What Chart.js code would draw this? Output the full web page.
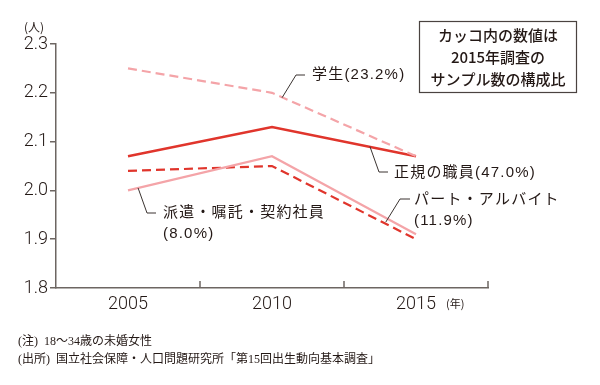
<!DOCTYPE html>
<html>
<head>
<meta charset="utf-8">
<script src="https://cdn.jsdelivr.net/npm/chart.js@4/dist/chart.umd.min.js"></script>
<style>
  body { margin: 0; background: #fff; }
  #wrap { width: 600px; height: 385px; position: relative; }
</style>
</head>
<body>
<div id="wrap"><canvas id="c" width="600" height="385"></canvas></div>
<script>
// data
const years = ["2005", "2010", "2015"];
const seiki = [2.07, 2.13, 2.07];     // 正規の職員
const gakusei = [2.25, 2.20, 2.07];   // 学生
const haken = [2.00, 2.07, 1.91];     // 派遣・嘱託・契約社員
const part = [2.04, 2.05, 1.90];      // パート・アルバイト
const yTicks = [1.8, 1.9, 2.0, 2.1, 2.2, 2.3];

const RED = "#e0352c";
const PINK = "#f4a4a8";
const INK = "#231815";
const AXIS = "#6d6662";
const JP = "'Noto Sans CJK JP', sans-serif";
const LAB = "'Liberation Sans', 'Noto Sans CJK JP', sans-serif";
const NUM = "Roboto, 'Liberation Sans', sans-serif";

// label callouts: anchor on a line (category index, value), elbow, text
const callouts = [
  { at: [1.07, 2.19], elbow: [296, 75], end: 305, lines: ["学生(23.2%)"], tx: 312, ty: 75 },
  { at: [1.68, 2.09], elbow: [379, 172], end: 388, lines: ["正規の職員(47.0%)"], tx: 394, ty: 173 },
  { at: [1.79, 1.935], elbow: [400, 199], end: 410, lines: ["パート・アルバイト", "(11.9%)"], tx: 414, ty: 200 },
  { at: [0.07, 2.005], elbow: [147, 213], end: 156, lines: ["派遣・嘱託・契約社員", "(8.0%)"], tx: 163, ty: 213 }
];

const decor = {
  id: "decor",
  afterDraw(chart) {
    const ctx = chart.ctx;
    const x = chart.scales.x, y = chart.scales.y;
    ctx.save();
    // x ticks pointing up at band edges
    ctx.strokeStyle = AXIS;
    ctx.lineWidth = 1.5;
    [0.5, 1.5, 2.5].forEach(v => {
      const px = Math.round(x.getPixelForValue(v));
      ctx.beginPath();
      ctx.moveTo(px, y.bottom);
      ctx.lineTo(px, y.bottom - 7);
      ctx.stroke();
    });
    // units
    ctx.fillStyle = INK;
    ctx.font = "12px " + JP;
    ctx.textBaseline = "middle";
    ctx.textAlign = "left";
    ctx.fillText("(人)", 24, 27);
    ctx.font = "11px " + JP;
    ctx.fillText("(年)", 446, 304);
    // callouts
    ctx.strokeStyle = "#3a3330";
    ctx.lineWidth = 1;
    callouts.forEach(c => {
      const ax = x.getPixelForValue(c.at[0]);
      const ay = y.getPixelForValue(c.at[1]);
      ctx.beginPath();
      ctx.moveTo(ax, ay);
      ctx.lineTo(c.elbow[0], c.elbow[1]);
      ctx.lineTo(c.end, c.elbow[1]);
      ctx.stroke();
      ctx.font = "15px " + LAB;
      ctx.letterSpacing = "1.2px";
      c.lines.forEach((t, i) => ctx.fillText(t, c.tx, c.ty + i * 21));
      ctx.letterSpacing = "0px";
    });
    // note box
    ctx.strokeStyle = "#4a4340";
    ctx.lineWidth = 1.2;
    ctx.strokeRect(419.5, 21.5, 157, 71);
    ctx.textAlign = "center";
    ctx.font = "500 15px " + JP;
    ["カッコ内の数値は", "2015年調査の", "サンプル数の構成比"].forEach((t, i) => ctx.fillText(t, 498, 35 + i * 22));
    // footnotes
    ctx.textAlign = "left";
    ctx.font = "12px 'Liberation Serif', 'Noto Sans CJK JP', serif";
    ctx.fillText("(注)  18〜34歳の未婚女性", 18, 342);
    ctx.fillText("(出所)  国立社会保障・人口問題研究所「第15回出生動向基本調査」", 18, 360);
    ctx.restore();
  }
};

new Chart(document.getElementById("c"), {
  type: "line",
  data: {
    labels: years,
    datasets: [
      { label: "学生", data: gakusei, borderColor: PINK, borderWidth: 2.2, borderDash: [9, 5] },
      { label: "派遣・嘱託・契約社員", data: haken, borderColor: PINK, borderWidth: 2.2 },
      { label: "パート・アルバイト", data: part, borderColor: RED, borderWidth: 2.2, borderDash: [9, 5] },
      { label: "正規の職員", data: seiki, borderColor: RED, borderWidth: 2.4 }
    ]
  },
  options: {
    responsive: false,
    animation: false,
    layout: { padding: { left: 0, top: 44, right: 112, bottom: 67 } },
    elements: { point: { radius: 0 }, line: { tension: 0, fill: false } },
    plugins: { legend: { display: false }, tooltip: { enabled: false } },
    scales: {
      x: {
        offset: true,
        grid: { display: false, drawTicks: false },
        border: { color: AXIS, width: 1.5 },
        ticks: { color: INK, padding: 6, font: { family: NUM, size: 18, weight: 300 } },
        afterFit(s) { s.height = 30; }
      },
      y: {
        min: 1.8,
        max: 2.3,
        afterBuildTicks(s) { s.ticks = yTicks.map(v => ({ value: v })); },
        grid: { drawOnChartArea: false, tickLength: 6, color: AXIS, lineWidth: 1.5 },
        border: { color: AXIS, width: 1.5 },
        ticks: {
          color: INK, padding: 2,
          font: { family: NUM, size: 18, weight: 300 },
          callback: v => v.toFixed(1)
        },
        afterFit(s) { s.width = 56; }
      }
    }
  },
  plugins: [decor]
});
</script>
</body>
</html>
